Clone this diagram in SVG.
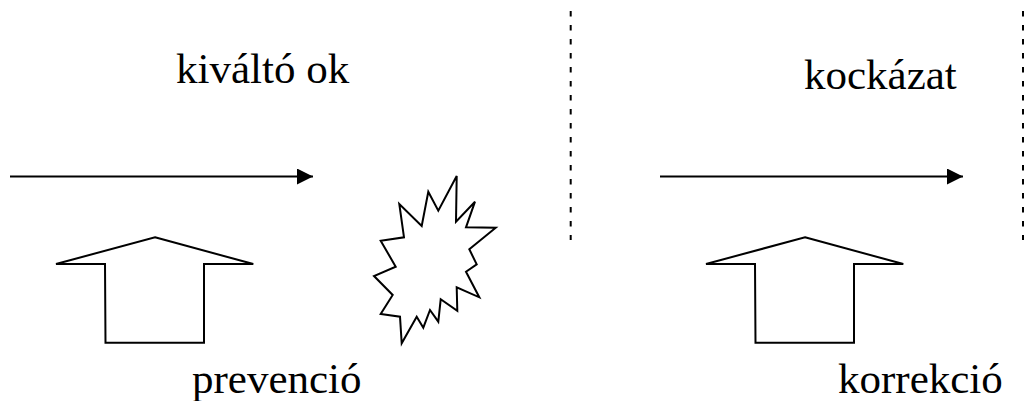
<svg xmlns="http://www.w3.org/2000/svg" width="1024" height="401" viewBox="0 0 1024 401">
<style>
.t{font-family:"Liberation Serif","Times New Roman",Times,Tinos,"Noto Serif","DejaVu Serif",Georgia,serif;font-size:43px;fill:#000}
.s{fill:#fff;stroke:#000;stroke-width:2;stroke-linejoin:miter}
.l{stroke:#000;stroke-width:2;fill:none}
.d{stroke:#000;stroke-width:2;stroke-dasharray:5.5 8.5;fill:none}
</style>
<defs>
<marker id="ah" markerUnits="userSpaceOnUse" markerWidth="17" markerHeight="17" refX="16" refY="8" orient="auto">
<path d="M0,0 L16,8 L0,16 Z" fill="#000"/>
</marker>
</defs>
<g id="labels">
<text class="t" x="176" y="83">kiváltó ok</text>
<text class="t" x="804" y="89">kockázat</text>
<text class="t" x="192" y="393">prevenció</text>
<text class="t" x="838" y="393">korrekció</text>
</g>
<g id="connectors">
<line class="l" x1="10" y1="176.5" x2="313" y2="176.5" marker-end="url(#ah)"/>
<line class="l" x1="660" y1="176.5" x2="963" y2="176.5" marker-end="url(#ah)"/>
</g>
<g id="dividers">
<line class="d" x1="570.7" y1="11" x2="570.7" y2="240"/>
<line class="d" x1="1023" y1="11" x2="1023" y2="240"/>
</g>
<g id="prevention-arrow">
<polygon class="s" points="155,237.3 253.3,264 204,264 204,342.7 105.5,342.7 105,264 56,264"/>
</g>
<g id="correction-arrow">
<polygon class="s" points="805,237.3 903.3,264 854,264 854,342.7 755.5,342.7 755,264 706,264"/>
</g>
<g id="explosion">
<polygon class="s" points="456.7,176 456,221.7 475,201.7 466,227.3 495.7,227.7 469.3,249.3 476.7,264.3 466,271.7 479.3,297.3 456.7,287.3 457.3,310.7 440.7,299.3 438.3,321.7 430,310 423.3,327.7 416.7,316.7 401.7,343.3 400,316.7 380.7,314 392.7,295 374,276 395.7,266.7 380.7,240.7 404,237.3 399.3,204 421.7,226 428.3,191.7 438.3,210.7"/>
</g>
</svg>
